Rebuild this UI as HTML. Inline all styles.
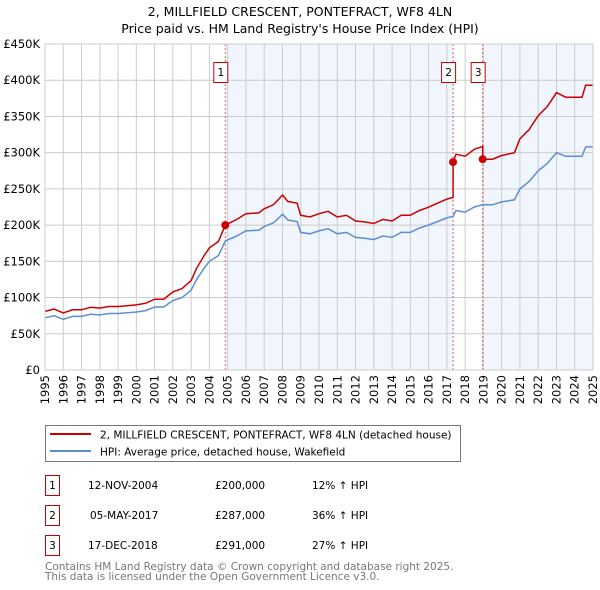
<!DOCTYPE html>
<html><head><meta charset="utf-8"><style>
body{margin:0;background:#fff}
svg{font-family:"DejaVu Sans","Liberation Sans",sans-serif;display:block}
</style></head><body>
<svg id="c" width="600" height="590" xmlns="http://www.w3.org/2000/svg">
<text x="300" y="16" text-anchor="middle" font-size="12.5">2, MILLFIELD CRESCENT, PONTEFRACT, WF8 4LN</text>
<text x="300" y="33" text-anchor="middle" font-size="12.5">Price paid vs. HM Land Registry's House Price Index (HPI)</text>
<g id="plot"></g>
<g>
<rect x="45.5" y="425.5" width="415" height="36" fill="#fff" stroke="#777"/>
<line x1="50" y1="434" x2="91" y2="434" stroke="#cc0000" stroke-width="2"/>
<text x="100" y="438.5" font-size="10.5">2, MILLFIELD CRESCENT, PONTEFRACT, WF8 4LN (detached house)</text>
<line x1="50" y1="451" x2="91" y2="451" stroke="#5b8fd0" stroke-width="2"/>
<text x="100" y="455.5" font-size="10.5">HPI: Average price, detached house, Wakefield</text>
</g>
<g font-size="10.5">
<rect x="45.5" y="475.5" width="14" height="20" fill="#fff" stroke="#c00"/><text x="52.5" y="489" text-anchor="middle">1</text>
<text x="88" y="489">12-NOV-2004</text><text x="215" y="489">£200,000</text><text x="312" y="489">12% ↑ HPI</text>
<rect x="45.5" y="505.5" width="14" height="20" fill="#fff" stroke="#c00"/><text x="52.5" y="519" text-anchor="middle">2</text>
<text x="90" y="519">05-MAY-2017</text><text x="215" y="519">£287,000</text><text x="312" y="519">36% ↑ HPI</text>
<rect x="45.5" y="535.5" width="14" height="20" fill="#fff" stroke="#c00"/><text x="52.5" y="549" text-anchor="middle">3</text>
<text x="88" y="549">17-DEC-2018</text><text x="215" y="549">£291,000</text><text x="312" y="549">27% ↑ HPI</text>
</g>
<text x="45" y="570" font-size="10.5" fill="#777">Contains HM Land Registry data © Crown copyright and database right 2025.</text>
<text x="45" y="580" font-size="10.5" fill="#777">This data is licensed under the Open Government Licence v3.0.</text>
</svg>
<script>
const hpiYears=[1995,1995.5,1996,1996.5,1997,1997.5,1998,1998.5,1999,1999.5,2000,2000.5,2001,2001.5,2002,2002.5,2003,2003.3,2003.7,2004,2004.5,2004.87,2005.5,2006,2006.7,2007,2007.5,2007.8,2008,2008.3,2008.8,2009,2009.5,2010,2010.5,2011,2011.5,2012,2012.5,2013,2013.5,2014,2014.5,2015,2015.5,2016,2016.5,2017,2017.34,2017.5,2018,2018.5,2018.96,2019.5,2020,2020.7,2021,2021.5,2022,2022.5,2023,2023.5,2024,2024.4,2024.6,2025];
const hpiValues=[72,75,70,74,74,77,76,78,78,79,80,82,87,87,96,100,110,125,140,150,158,178,185,192,193,198,203,210,215,207,205,190,188,192,195,188,190,183,182,180,185,183,190,190,196,200,205,210,212,220,218,225,228,228,232,235,250,260,275,285,300,295,295,295,308,308];
const saleYears=[2004.87,2017.34,2018.96];
const saleValues=[200,287,291];
const saleLabels=["1","2","3"];
const yTicks=[0,50,100,150,200,250,300,350,400,450];
const xTicks=[1995,1996,1997,1998,1999,2000,2001,2002,2003,2004,2005,2006,2007,2008,2009,2010,2011,2012,2013,2014,2015,2016,2017,2018,2019,2020,2021,2022,2023,2024,2025];
const X0=45,X1=593,Y0=370,Y1=44;
const xs=t=>X0+(t-1995)/30*(X1-X0);
const ys=v=>Y0-v/450*(Y0-Y1);
const NS="http://www.w3.org/2000/svg";
const g=document.getElementById('plot');
function mk(tag,attrs){const e=document.createElementNS(NS,tag);for(const k in attrs)e.setAttribute(k,attrs[k]);g.appendChild(e);return e;}
function hpiAt(t){for(let i=1;i<hpiYears.length;i++){if(t<=hpiYears[i]){const a=hpiYears[i-1],b=hpiYears[i];return hpiValues[i-1]+(hpiValues[i]-hpiValues[i-1])*(t-a)/(b-a);}}return hpiValues[hpiValues.length-1];}
let e=mk('rect',{x:X0,y:Y1,width:X1-X0,height:Y0-Y1,fill:'#fff'});


// shading
e=mk('rect',{x:xs(saleYears[0]),y:Y1,width:xs(saleYears[1])-xs(saleYears[0]),height:Y0-Y1,fill:'#eef3fd',opacity:0.8});


e=mk('rect',{x:xs(saleYears[2]),y:Y1,width:X1-xs(saleYears[2]),height:Y0-Y1,fill:'#eef3fd',opacity:0.8});


yTicks.forEach(v=>{
 e=mk('line',{x1:X0,x2:X1,y1:ys(v),y2:ys(v),stroke:'#ccc'});
 
 
 e=mk('text',{x:X0-5,y:ys(v)+4,'text-anchor':'end','font-size':'11.5'});e.textContent=v===0?'£0':'£'+v+'K';
 
 
});
xTicks.forEach(t=>{
 e=mk('line',{x1:xs(t),x2:xs(t),y1:Y1,y2:Y0,stroke:'#ccc'});
 
 
 e=mk('text',{x:0,y:0,'text-anchor':'end','font-size':'11.5',transform:`translate(${xs(t)+4},${Y0+5}) rotate(-90)`});e.textContent=t;
 
 
});
saleYears.forEach((t,i)=>{
 e=mk('line',{x1:xs(t),x2:xs(t),y1:Y1,y2:Y0,stroke:'#e06060','stroke-dasharray':'2,2'});
 
 
 e=mk('rect',{x:xs(t)-11.5,y:62.5,width:14,height:20,fill:'#fff',stroke:'#c00'});
 
 
 e=mk('text',{x:xs(t)-4.5,y:76,'text-anchor':'middle','font-size':'10.5'});e.textContent=saleLabels[i];
 
 
});
// HPI line
let d=hpiYears.map((t,i)=>(i?'L':'M')+xs(t).toFixed(1)+','+ys(hpiValues[i]).toFixed(1)).join('');
e=mk('path',{d:d,fill:'none',stroke:'#5b8fd0','stroke-width':1.5});


// property line: HPI scaled by ratio at latest sale
let pts=[];
const allT=hpiYears.concat(saleYears).sort((a,b)=>a-b);
allT.forEach(t=>{
 let k=0;for(let i=0;i<saleYears.length;i++)if(t>=saleYears[i])k=i;
 const ratio=saleValues[k]/hpiAt(saleYears[k]);
 if(saleYears.includes(t)&&t>saleYears[0]){const kp=k-1;pts.push([t,hpiAt(t)*saleValues[kp]/hpiAt(saleYears[kp])]);}
 pts.push([t,hpiAt(t)*ratio]);
});
d=pts.map((p,i)=>(i?'L':'M')+xs(p[0]).toFixed(1)+','+ys(p[1]).toFixed(1)).join('');
e=mk('path',{d:d,fill:'none',stroke:'#cc0000','stroke-width':1.5});


saleYears.forEach((t,i)=>{
 e=mk('circle',{cx:xs(t),cy:ys(saleValues[i]),r:4,fill:'#cc0000'});
 
 
});
e=mk('rect',{x:X0,y:Y1,width:X1-X0,height:Y0-Y1,fill:'none',stroke:'#ccc'});


</script>
</body></html>
